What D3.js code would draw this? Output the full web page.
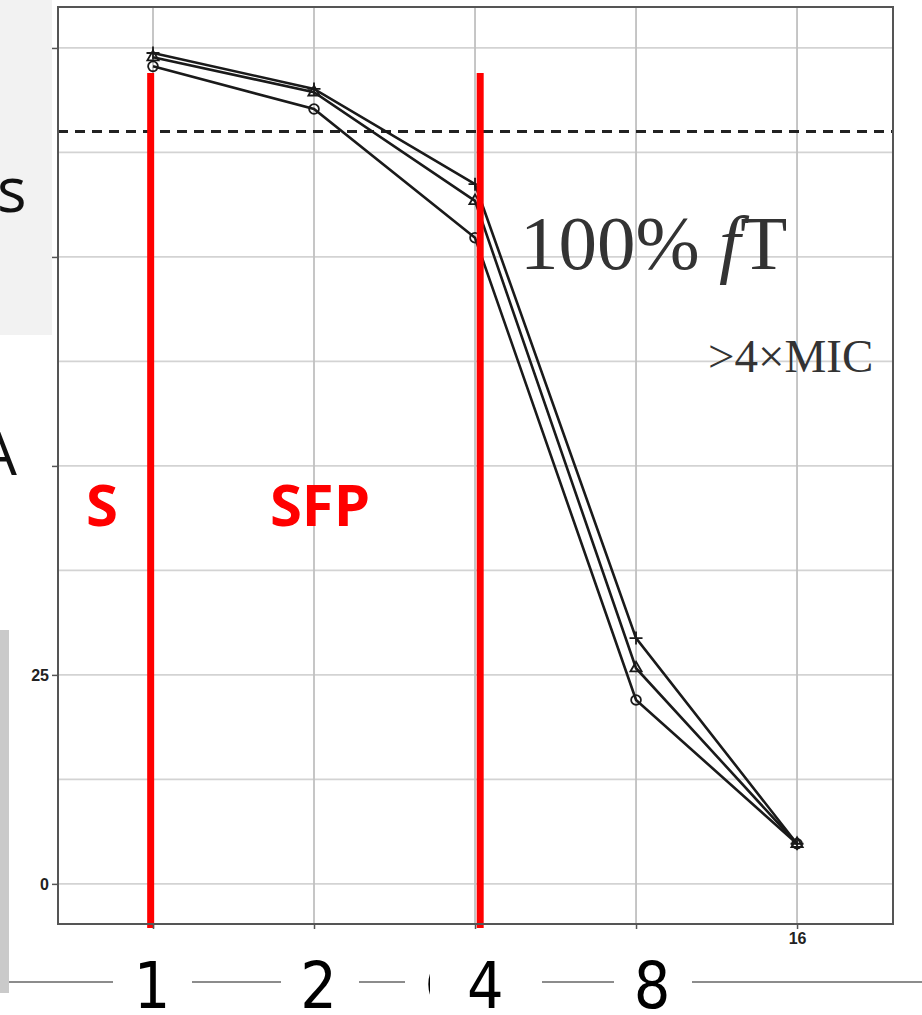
<!DOCTYPE html>
<html>
<head>
<meta charset="utf-8">
<script src="https://cdn.jsdelivr.net/npm/d3@7"></script>
<style>
  body { margin: 0; background: #fff; }
  svg { display: block; }
</style>
</head>
<body>
<div id="chart"></div>
<script>
var svgWidth = 922;
var svgHeight = 1015;

var margin = { top: 7, right: 29, bottom: 91, left: 58 };
var width = svgWidth - margin.left - margin.right;
var height = svgHeight - margin.top - margin.bottom;

// data
var doses = [1, 2, 4, 8, 16];
var plusSeries = [99.4, 95.1, 83.7, 29.4, 4.8];
var triangleSeries = [98.9, 94.7, 81.7, 25.8, 4.8];
var circleSeries = [97.8, 92.7, 77.3, 22.0, 4.8];
var targetLevel = 90;
var yMajorTicks = [0, 25, 50, 75, 100];
var yMinorTicks = [12.5, 37.5, 62.5, 87.5];
var yTickLabels = ["0", "25"];
var xTickLabels = ["16"];
var regionBreaks = [0.99, 4.09];
var regionLabels = ["S", "SFP"];
var slideAxisLabels = ["1", "2", "4", "8"];

var svg = d3.select("#chart")
  .append("svg")
  .attr("width", svgWidth)
  .attr("height", svgHeight);

var chartGroup = svg.append("g")
  .attr("transform", `translate(${margin.left}, ${margin.top})`);

var xScale = d3.scaleLog().base(2)
  .domain([Math.pow(2, -0.59), Math.pow(2, 4.596)])
  .range([0, width]);

var yScale = d3.scaleLinear()
  .domain([-4.8, 104.9])
  .range([height, 0]);

// panel
chartGroup.append("rect")
  .attr("width", width).attr("height", height)
  .attr("fill", "#fff");

// grid
chartGroup.selectAll(".hgrid")
  .data(yMajorTicks.concat(yMinorTicks))
  .enter().append("line")
  .attr("x1", 0).attr("x2", width)
  .attr("y1", d => yScale(d)).attr("y2", d => yScale(d))
  .attr("stroke", "#d3d3d3").attr("stroke-width", 1.8);

chartGroup.selectAll(".vgrid")
  .data(doses)
  .enter().append("line")
  .attr("x1", d => xScale(d)).attr("x2", d => xScale(d))
  .attr("y1", 0).attr("y2", height)
  .attr("stroke", "#c0c0c0").attr("stroke-width", 1.8);

// target line
chartGroup.append("line")
  .attr("x1", 0).attr("x2", width)
  .attr("y1", yScale(targetLevel)).attr("y2", yScale(targetLevel))
  .attr("stroke", "#222").attr("stroke-width", 3)
  .attr("stroke-dasharray", "10,7");

var line = d3.line()
  .x(d => xScale(d[0]))
  .y(d => yScale(d[1]));

var series = [
  { shape: "plus", values: plusSeries },
  { shape: "triangle", values: triangleSeries },
  { shape: "circle", values: circleSeries }
];

series.forEach(function(s) {
  var pts = doses.map((d, i) => [d, s.values[i]]);
  chartGroup.append("path")
    .datum(pts)
    .attr("d", line)
    .attr("fill", "none")
    .attr("stroke", "#1a1a1a")
    .attr("stroke-width", 2.6);

  var marks = chartGroup.selectAll(".m-" + s.shape)
    .data(pts)
    .enter().append("path")
    .attr("transform", d => `translate(${xScale(d[0])}, ${yScale(d[1])})`)
    .attr("fill", "none")
    .attr("stroke", "#1a1a1a")
    .attr("stroke-width", 1.8);

  if (s.shape === "plus") {
    marks.attr("d", "M-6.5,0H6.5M0,-6.5V6.5");
  } else if (s.shape === "triangle") {
    marks.attr("d", d3.symbol().type(d3.symbolTriangle).size(55));
  } else {
    marks.attr("d", d3.symbol().type(d3.symbolCircle).size(75));
  }
});

// region boundaries (slide annotation)
chartGroup.selectAll(".redline")
  .data(regionBreaks)
  .enter().append("line")
  .attr("x1", d => xScale(d)).attr("x2", d => xScale(d))
  .attr("y1", yScale(97)).attr("y2", height + 4)
  .attr("stroke", "#ff0000").attr("stroke-width", 7);

// frame
chartGroup.append("rect")
  .attr("width", width).attr("height", height)
  .attr("fill", "none")
  .attr("stroke", "#555").attr("stroke-width", 2);

// axes
var leftAxis = d3.axisLeft(yScale)
  .tickValues(yMajorTicks)
  .tickSize(6)
  .tickPadding(3)
  .tickFormat(d => yTickLabels.indexOf(String(d)) >= 0 ? String(d) : "");

var bottomAxis = d3.axisBottom(xScale)
  .tickValues(doses)
  .tickSize(5)
  .tickPadding(4)
  .tickFormat(d => xTickLabels.indexOf(String(d)) >= 0 ? String(d) : "");

[chartGroup.append("g").call(leftAxis),
 chartGroup.append("g").attr("transform", `translate(0, ${height})`).call(bottomAxis)]
  .forEach(function(g) {
    g.select(".domain").remove();
    g.selectAll(".tick line").attr("stroke", "#555").attr("stroke-width", 1.5);
    g.selectAll(".tick text")
      .attr("fill", "#222")
      .style("font-family", "Liberation Sans, Arial, sans-serif")
      .style("font-size", "16px")
      .style("font-weight", "bold");
  });

// red region labels
svg.append("text")
  .attr("x", 102).attr("y", 526)
  .attr("text-anchor", "middle")
  .attr("fill", "#ff0000")
  .style("font-family", "Open Sans, sans-serif")
  .style("font-weight", "bold")
  .style("font-size", "58px")
  .text(regionLabels[0]);

svg.append("text")
  .attr("x", 320).attr("y", 526)
  .attr("text-anchor", "middle")
  .attr("fill", "#ff0000")
  .style("font-family", "Open Sans, sans-serif")
  .style("font-weight", "bold")
  .style("font-size", "58px")
  .text(regionLabels[1]);

// target annotations
var ftText = svg.append("text")
  .attr("x", 520).attr("y", 269)
  .attr("fill", "#333")
  .style("font-family", "Liberation Serif, Times New Roman, serif")
  .style("font-size", "77px");
ftText.append("tspan").text("100% ");
ftText.append("tspan").style("font-style", "italic").text("f");
ftText.append("tspan").text("T");

svg.append("text")
  .attr("x", 708).attr("y", 372)
  .attr("fill", "#333")
  .style("font-family", "Liberation Serif, Times New Roman, serif")
  .style("font-size", "47px")
  .text(">4×MIC");

// slide pieces around the chart
svg.append("rect")
  .attr("x", 0).attr("y", 0).attr("width", 52).attr("height", 335)
  .attr("fill", "#f2f2f2");

svg.append("text")
  .attr("x", -3).attr("y", 212)
  .attr("fill", "#111")
  .style("font-family", "Open Sans, sans-serif")
  .style("font-size", "62px")
  .text("s");

svg.append("text")
  .attr("x", -21).attr("y", 475)
  .attr("fill", "#111")
  .style("font-family", "Open Sans, sans-serif")
  .style("font-size", "60px")
  .text("A");

svg.append("rect")
  .attr("x", 0).attr("y", 630).attr("width", 9).attr("height", 363)
  .attr("fill", "#cacaca");

// slide dose axis
var slideScale = d3.scaleLog().base(2)
  .domain([1, 8])
  .range([152, 652]);

var slideGaps = [[113, 192], [281, 359], [405, 542], [614, 692]];
var segStart = 9;
slideGaps.forEach(function(g) {
  svg.append("line")
    .attr("x1", segStart).attr("x2", g[0])
    .attr("y1", 982).attr("y2", 982)
    .attr("stroke", "#666").attr("stroke-width", 1.5);
  segStart = g[1];
});
svg.append("line")
  .attr("x1", segStart).attr("x2", svgWidth)
  .attr("y1", 982).attr("y2", 982)
  .attr("stroke", "#666").attr("stroke-width", 1.5);

svg.selectAll(".slideLabel")
  .data(slideAxisLabels)
  .enter().append("text")
  .attr("x", d => slideScale(+d))
  .attr("y", 1008)
  .attr("text-anchor", "middle")
  .attr("fill", "#000")
  .style("font-family", "DejaVu Sans Condensed, DejaVu Sans, sans-serif")
  .style("font-size", "64px")
  .text(d => d);

svg.append("defs").append("clipPath").attr("id", "cutChar")
  .append("rect").attr("x", 420).attr("y", 955).attr("width", 10).attr("height", 60);
svg.append("text")
  .attr("x", 424).attr("y", 1000)
  .attr("clip-path", "url(#cutChar)")
  .attr("fill", "#000")
  .style("font-family", "DejaVu Sans, sans-serif")
  .style("font-size", "50px")
  .text("(");
</script>
</body>
</html>
